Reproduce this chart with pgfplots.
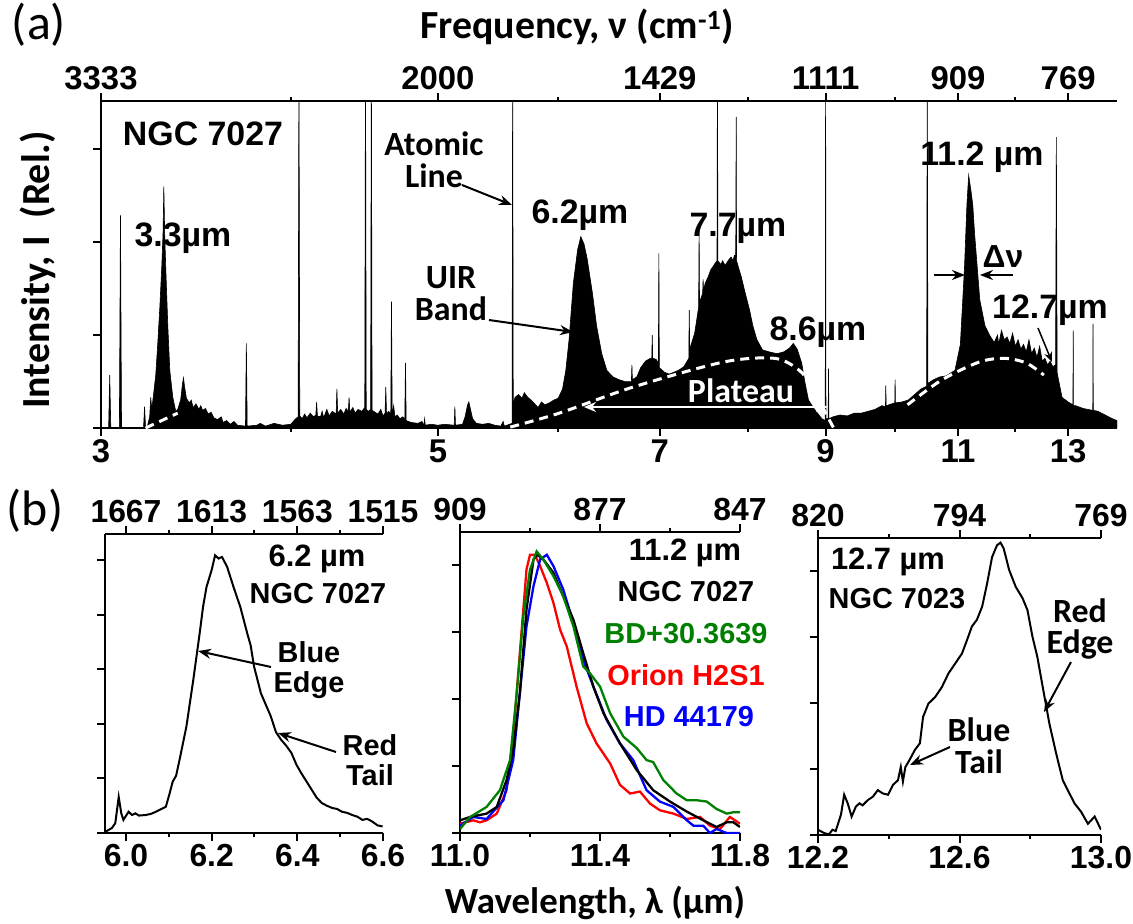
\documentclass[border=0pt]{standalone}
\usepackage{fontspec}
\usepackage{pgfplots}
\pgfplotsset{compat=1.18}
\usetikzlibrary{arrows.meta}
\setmainfont{Liberation Sans}
\newfontfamily\carl{Carlito}
\newcommand\fs[1]{\fontsize{#1}{#1}\selectfont}
\definecolor{dgreen}{RGB}{0,128,0}
\pgfplotsset{
  base/.style={scale only axis, axis line style={line width=2.2bp,-}, tick align=outside,
    major tick length=8bp, minor tick length=4bp,
    every tick/.style={black,line width=2bp},
    ticklabel style={font=\bfseries\fs{32}}},
  mainax/.style={base, axis x line*=bottom, axis y line*=left, yticklabels={}},
  topax/.style={base, axis x line*=top, axis y line=none},
}
\tikzset{arr/.style={line width=2bp,-{Stealth[length=13bp,width=10bp]}}}
\begin{document}
\begin{tikzpicture}
\useasboundingbox (0,0) rectangle (1133bp,-924bp);
% ---------------- (a)
\begin{axis}[mainax, at={(101bp,-428bp)}, anchor=south west, width=1016bp, height=327bp,
  xmode=log, xmin=3, xmax=14, ymin=0, ymax=3.52, ticklabel style={font=\bfseries\fs{33}},
  xtick={3,5,7,9,11,13}, xticklabels={3,5,7,9,11,13}, minor xtick={4,6,8,10,12}, ytick={0,1,2,3}]
\addplot[fill=black, draw=black, line width=0.6bp] coordinates {
(3.000,0.00)(3.035,0.00)(3.040,0.57)(3.045,0.00)(3.085,0.00)(3.090,2.29)(3.095,0.00)
(3.200,0.00)(3.205,0.23)(3.210,0.00)(3.220,0.03)(3.230,0.12)(3.235,0.33)(3.240,0.20)(3.250,0.38)
(3.260,0.58)(3.270,0.92)(3.280,1.30)(3.290,1.75)(3.296,2.10)(3.300,2.60)(3.304,2.10)
(3.310,1.70)(3.320,1.10)(3.330,0.62)(3.345,0.33)(3.360,0.18)(3.370,0.20)(3.385,0.30)
(3.395,0.48)(3.400,0.54)(3.405,0.45)(3.415,0.32)(3.430,0.27)(3.440,0.30)(3.450,0.22)
(3.465,0.26)(3.480,0.20)(3.490,0.24)(3.500,0.19)(3.515,0.21)(3.530,0.15)(3.545,0.17)
(3.560,0.11)(3.580,0.09)(3.600,0.12)(3.610,0.06)(3.630,0.08)(3.650,0.04)(3.670,0.07)
(3.690,0.03)(3.735,0.02)(3.740,0.91)(3.745,0.02)(3.800,0.03)(3.820,0.05)(3.850,0.02)
(3.900,0.05)(3.950,0.03)(4.000,0.04)(4.020,0.08)(4.030,0.10)(4.045,0.12)(4.050,4.00)
(4.055,0.13)(4.070,0.10)(4.085,0.15)(4.100,0.11)(4.120,0.16)(4.140,0.12)(4.155,0.14)
(4.160,0.28)(4.165,0.13)(4.185,0.12)(4.195,0.18)(4.205,0.11)(4.225,0.20)(4.240,0.13)
(4.260,0.18)(4.285,0.15)(4.290,0.42)(4.295,0.16)(4.315,0.20)(4.335,0.15)(4.350,0.21)
(4.365,0.18)(4.370,0.33)(4.375,0.17)(4.395,0.22)(4.410,0.16)(4.430,0.20)(4.455,0.18)
(4.475,0.22)(4.480,4.00)(4.485,0.20)(4.500,0.18)(4.515,0.20)(4.520,4.00)(4.525,0.19)
(4.545,0.17)(4.565,0.15)(4.585,0.20)(4.600,0.13)(4.615,0.16)(4.620,0.44)(4.625,0.15)
(4.640,0.18)(4.655,0.15)(4.660,1.36)(4.665,0.14)(4.675,0.24)(4.685,0.12)(4.700,0.14)
(4.720,0.10)(4.740,0.12)(4.755,0.10)(4.760,0.70)(4.765,0.08)(4.800,0.06)(4.850,0.05)
(4.880,0.07)(4.895,0.03)(4.900,0.10)(4.905,0.03)(4.950,0.04)(5.000,0.03)(5.050,0.04)
(5.125,0.03)(5.130,0.23)(5.135,0.03)(5.190,0.04)(5.210,0.12)(5.230,0.25)(5.240,0.28)
(5.250,0.22)(5.270,0.10)(5.300,0.05)(5.350,0.04)(5.400,0.05)(5.450,0.03)(5.500,0.02)
(5.520,0.07)(5.530,0.02)(5.595,0.05)(5.600,4.00)(5.605,0.25)(5.620,0.33)(5.650,0.36)
(5.680,0.32)(5.700,0.38)(5.730,0.33)(5.760,0.30)(5.790,0.26)(5.820,0.22)(5.850,0.28)
(5.880,0.25)(5.920,0.27)(5.960,0.30)(6.000,0.32)(6.040,0.42)(6.070,0.62)(6.100,0.95)
(6.140,1.56)(6.180,1.92)(6.210,2.06)(6.240,1.98)(6.270,1.82)(6.320,1.45)(6.360,1.10)
(6.410,0.80)(6.460,0.62)(6.520,0.55)(6.580,0.52)(6.640,0.50)(6.705,0.50)(6.710,0.68)
(6.715,0.52)(6.760,0.55)(6.800,0.65)(6.850,0.72)(6.900,0.75)(6.915,0.75)(6.920,1.00)
(6.925,0.75)(6.960,0.74)(6.985,0.70)(6.990,1.88)(6.995,0.65)(7.050,0.60)(7.100,0.58)
(7.150,0.60)(7.200,0.62)(7.260,0.66)(7.315,0.75)(7.320,1.27)(7.325,0.85)(7.380,1.02)
(7.425,1.30)(7.430,2.13)(7.435,1.35)(7.470,1.45)(7.475,1.60)(7.480,1.48)(7.500,1.56)
(7.530,1.62)(7.560,1.70)(7.590,1.74)(7.610,1.77)(7.635,1.80)(7.640,4.00)(7.645,1.80)
(7.680,1.76)(7.700,1.80)(7.730,1.75)(7.750,1.78)(7.780,1.82)(7.800,1.84)(7.820,1.80)
(7.840,1.86)(7.855,1.85)(7.860,3.35)(7.865,1.80)(7.890,1.72)(7.920,1.63)(7.970,1.45)
(8.020,1.27)(8.060,1.10)(8.110,0.95)(8.180,0.84)(8.260,0.82)(8.360,0.80)(8.450,0.82)
(8.520,0.86)(8.570,0.91)(8.620,0.85)(8.680,0.70)(8.720,0.50)(8.770,0.30)(8.850,0.20)
(8.950,0.10)(8.995,0.08)(9.000,4.00)(9.005,0.10)(9.035,0.10)(9.040,0.64)(9.045,0.10)
(9.100,0.12)(9.200,0.14)(9.300,0.13)(9.400,0.16)(9.500,0.16)(9.600,0.18)(9.700,0.20)
(9.800,0.24)(9.855,0.23)(9.860,0.46)(9.865,0.24)(9.950,0.26)(9.995,0.27)(10.000,0.52)
(10.005,0.27)(10.100,0.28)(10.200,0.30)(10.300,0.36)(10.400,0.42)(10.490,0.45)(10.500,4.00)
(10.510,0.48)(10.600,0.52)(10.700,0.55)(10.800,0.56)(10.950,0.62)(11.040,0.90)(11.110,1.73)
(11.150,2.40)(11.180,2.72)(11.220,2.55)(11.250,2.40)(11.280,2.10)(11.370,1.38)(11.460,1.10)
(11.540,1.00)(11.620,0.92)(11.680,1.00)(11.700,0.90)(11.750,1.05)(11.800,0.95)(11.850,0.98)
(11.900,0.91)(11.950,1.02)(12.000,0.88)(12.050,0.95)(12.100,0.85)(12.150,0.90)(12.200,0.82)
(12.250,0.95)(12.300,0.80)(12.350,0.86)(12.400,0.76)(12.450,0.88)(12.500,0.72)(12.550,0.75)
(12.600,0.68)(12.650,0.72)(12.700,0.66)(12.755,0.68)(12.770,3.13)(12.785,0.60)(12.800,0.55)
(12.880,0.33)(13.000,0.28)(13.095,0.25)(13.100,1.05)(13.105,0.24)(13.150,0.24)(13.300,0.21)
(13.495,0.19)(13.500,1.12)(13.505,0.19)(13.600,0.18)(13.750,0.14)(13.900,0.10)(14.000,0.08)
} \closedcycle;
\addplot[white, line width=3bp, dash pattern=on 9bp off 6bp] coordinates {(3.21,0.0)(3.37,0.16)};
\addplot[white, line width=3bp, dash pattern=on 9bp off 6bp, smooth] coordinates {
(5.58,0.01)(6.01,0.16)(6.72,0.44)(7.71,0.71)(8.33,0.75)(8.65,0.62)(8.81,0.44)(9.11,0.0)};
\addplot[white, line width=3bp, dash pattern=on 9bp off 6bp, smooth] coordinates {
(10.19,0.25)(10.74,0.52)(11.36,0.71)(11.80,0.75)(12.2,0.70)(12.53,0.57)};
\end{axis}
\begin{axis}[topax, at={(101bp,-428bp)}, anchor=south west, width=1016bp, height=327bp,
  xmode=log, xmin=3, xmax=14, ymin=0, ymax=3.52, ticklabel style={font=\bfseries\fs{33}},
  xtick={3,5,7,9,11,13}, xticklabels={3333,2000,1429,1111,909,769}, minor xtick={4,6,8,10,12}]
\addplot[draw=none] coordinates {(3,0)};
\end{axis}
% ---------------- (b1)
\begin{axis}[mainax, at={(105bp,-833bp)}, anchor=south west, width=278bp, height=299bp,
  xmin=5.951, xmax=6.6, ymin=0, ymax=5.48, xtick={6.0,6.2,6.4,6.6}, xticklabels={6.0,6.2,6.4,6.6},
  minor xtick={6.1,6.3,6.5}, ytick={0,1,2,3,4,5}]
\addplot[black, line width=2bp] coordinates {
(5.951,0.02)(5.967,0.09)(5.975,0.18)(5.983,0.66)(5.989,0.36)(5.994,0.24)(6.006,0.39)(6.014,0.33)
(6.022,0.36)(6.030,0.32)(6.046,0.33)(6.058,0.35)(6.070,0.39)(6.085,0.45)(6.093,0.48)(6.101,0.70)
(6.109,0.94)(6.117,1.05)(6.125,1.34)(6.141,1.95)(6.157,2.80)(6.172,3.66)(6.180,4.15)(6.188,4.51)
(6.200,4.82)(6.208,5.09)(6.216,5.03)(6.224,5.06)(6.236,4.88)(6.251,4.51)(6.267,4.14)(6.283,3.66)
(6.291,3.44)(6.299,3.05)(6.315,2.56)(6.338,2.14)(6.350,1.85)(6.362,1.71)(6.374,1.60)(6.386,1.47)
(6.398,1.25)(6.409,1.10)(6.421,0.95)(6.433,0.80)(6.445,0.65)(6.457,0.55)(6.469,0.50)(6.481,0.46)
(6.493,0.44)(6.504,0.39)(6.516,0.37)(6.528,0.33)(6.540,0.30)(6.552,0.24)(6.563,0.26)(6.575,0.21)
(6.587,0.14)(6.599,0.12)};
\end{axis}
\begin{axis}[topax, at={(105bp,-833bp)}, anchor=south west, width=278bp, height=299bp,
  xmin=5.951, xmax=6.6, ymin=0, ymax=5.48, xtick={6.0,6.2,6.4,6.6}, xticklabels={1667,1613,1563,1515},
  minor xtick={6.1,6.3,6.5}]
\addplot[draw=none] coordinates {(6,0)};
\end{axis}
% ---------------- (b2)
\begin{axis}[mainax, at={(460bp,-833bp)}, anchor=south west, width=280bp, height=301bp,
  xmin=11, xmax=11.8, ymin=0, ymax=4.5, xtick={11.0,11.4,11.8}, xticklabels={11.0,11.4,11.8},
  minor xtick={11.2,11.6}, ytick={0,1,2,3,4}]
\addplot[red, line width=2.3bp] coordinates {
(11.0,0.14)(11.038,0.19)(11.057,0.16)(11.076,0.19)(11.105,0.29)(11.133,0.64)(11.152,1.44)(11.171,2.69)
(11.190,3.94)(11.2,4.16)(11.214,4.16)(11.229,3.99)(11.248,3.74)(11.267,3.44)(11.286,3.04)(11.305,2.79)
(11.333,2.19)(11.362,1.64)(11.390,1.34)(11.429,1.04)(11.457,0.72)(11.486,0.59)(11.514,0.62)(11.543,0.44)
(11.571,0.34)(11.610,0.29)(11.648,0.21)(11.686,0.24)(11.714,0.11)(11.743,0.06)(11.771,0.24)(11.8,0.14)};
\addplot[blue, line width=2.3bp] coordinates {
(11.0,0.11)(11.038,0.24)(11.076,0.21)(11.124,0.49)(11.152,1.09)(11.171,2.09)(11.190,3.09)(11.210,3.69)
(11.229,4.09)(11.248,4.16)(11.267,3.99)(11.295,3.64)(11.324,3.14)(11.352,2.59)(11.381,2.19)(11.419,1.69)
(11.457,1.34)(11.495,1.09)(11.533,0.64)(11.571,0.47)(11.610,0.39)(11.648,0.19)(11.667,0.11)(11.695,0.11)
(11.714,0.0)(11.733,0.06)(11.762,0.0)(11.8,0.0)};
\addplot[black, line width=2.3bp] coordinates {
(11.000,0.19)(11.029,0.24)(11.076,0.29)(11.105,0.39)(11.133,0.79)(11.152,1.24)(11.171,2.09)(11.190,3.34)
(11.210,4.09)(11.221,4.16)(11.238,4.09)(11.267,3.89)(11.295,3.54)(11.324,3.19)(11.352,2.69)(11.381,2.19)
(11.410,1.79)(11.457,1.34)(11.505,0.94)(11.552,0.64)(11.600,0.47)(11.648,0.32)(11.695,0.19)(11.733,0.09)
(11.762,0.16)(11.781,0.16)(11.800,0.09)};
\addplot[dgreen, line width=2.3bp] coordinates {
(11.0,0.06)(11.029,0.24)(11.076,0.39)(11.114,0.64)(11.143,1.09)(11.162,2.09)(11.181,3.24)(11.2,3.94)
(11.219,4.21)(11.238,4.09)(11.267,3.84)(11.295,3.54)(11.324,3.09)(11.352,2.49)(11.371,2.39)(11.4,2.19)
(11.429,1.79)(11.467,1.44)(11.505,1.27)(11.533,1.09)(11.552,1.06)(11.581,0.79)(11.619,0.59)(11.648,0.49)
(11.676,0.49)(11.705,0.47)(11.733,0.36)(11.762,0.29)(11.781,0.31)(11.8,0.31)};
\end{axis}
\begin{axis}[topax, at={(460bp,-833bp)}, anchor=south west, width=280bp, height=301bp,
  xmin=11, xmax=11.8, ymin=0, ymax=4.5, xtick={11.0,11.4,11.8}, xticklabels={909,877,847},
  minor xtick={11.2,11.6}]
\addplot[draw=none] coordinates {(11,0)};
\end{axis}
% ---------------- (b3)
\begin{axis}[mainax, at={(818bp,-835bp)}, anchor=south west, width=283bp, height=297bp,
  xmin=12.2, xmax=13.0, ymin=0, ymax=4.5, xtick={12.2,12.6,13.0}, xticklabels={12.2,12.6,13.0},
  minor xtick={12.4,12.8}, ytick={0,1,2,3,4}]
\addplot[black, line width=2bp] coordinates {
(12.2,0.08)(12.217,0.03)(12.231,0.01)(12.241,0.08)(12.250,0.06)(12.265,0.31)(12.274,0.61)(12.284,0.48)
(12.295,0.28)(12.307,0.43)(12.317,0.48)(12.326,0.45)(12.341,0.53)(12.355,0.58)(12.369,0.68)(12.383,0.63)
(12.398,0.61)(12.412,0.76)(12.426,0.83)(12.434,1.03)(12.440,0.81)(12.447,1.03)(12.459,1.14)(12.474,1.29)
(12.488,1.39)(12.497,1.79)(12.512,1.99)(12.531,2.09)(12.550,2.24)(12.569,2.45)(12.588,2.60)(12.607,2.75)
(12.621,2.95)(12.635,3.16)(12.649,3.26)(12.664,3.46)(12.678,3.81)(12.692,4.21)(12.706,4.39)(12.716,4.43)
(12.725,4.34)(12.740,4.02)(12.759,3.76)(12.778,3.59)(12.792,3.41)(12.806,3.01)(12.820,2.70)(12.835,2.25)
(12.854,1.69)(12.873,1.24)(12.892,0.83)(12.906,0.68)(12.925,0.48)(12.944,0.35)(12.963,0.17)(12.982,0.28)
(13.0,0.08)};
\end{axis}
\begin{axis}[topax, at={(818bp,-835bp)}, anchor=south west, width=283bp, height=297bp,
  xmin=12.2, xmax=13.0, ymin=0, ymax=4.5, xtick={12.2,12.6,13.0}, xticklabels={820,794,769},
  minor xtick={12.4,12.8}]
\addplot[draw=none] coordinates {(12.2,0)};
\end{axis}
% ---------------- annotations
\begin{scope}[x=1bp,y=-1bp]
\node[font=\carl\fs{50}] at (39,25) {(a)};
\node[font=\carl\fs{50}] at (35,511) {(b)};
\node[font=\carl\bfseries\fs{40}] at (577,27) {Frequency, ν (cm\textsuperscript{-1})};
\node[font=\carl\bfseries\fs{40}, rotate=90] at (38,270) {Intensity, I~~(Rel.)};
\node[font=\carl\bfseries\fs{37}] at (595,903) {Wavelength, λ (µm)};
% panel (a) labels
\node[font=\bfseries\fs{34}] at (203,134) {NGC 7027};
\node[font=\bfseries\fs{34}] at (183,238) {3.3µm};
\node[font=\carl\bfseries\fs{34}, align=center, inner sep=0] at (434,160) {Atomic\\[-2bp]Line};
\draw[arr] (462,185) -- (512,205);
\node[font=\bfseries\fs{34}] at (580,215) {6.2µm};
\node[font=\carl\bfseries\fs{34}, align=center, inner sep=0] at (451,294) {UIR\\[-2bp]Band};
\draw[arr] (489,320) -- (573,332);
\node[font=\bfseries\fs{34}] at (738,228) {7.7µm};
\node[font=\bfseries\fs{34}] at (818,332) {8.6µm};
\node[font=\carl\bfseries\fs{34}, white] at (741,391) {Plateau};
\draw[white, line width=2bp, {Stealth[length=12bp,width=10bp]}-{Stealth[length=12bp,width=10bp]}] (584,407) -- (828,407);
\node[font=\bfseries\fs{34}] at (982,157) {11.2 µm};
\node[font=\bfseries\fs{32}] at (1003,257) {Δν};
\draw[arr] (934,275) -- (965,275);
\draw[arr] (1013,275) -- (980,275);
\node[font=\bfseries\fs{34}] at (1050,310) {12.7µm};
\draw[line width=1.5bp,-{Stealth[length=10bp,width=8bp]}] (1038,328) -- (1052,362);
% panel b1
\node[font=\bfseries\fs{31}] at (317,559) {6.2 µm};
\node[font=\bfseries\fs{29}] at (318,594) {NGC 7027};
\node[font=\bfseries\fs{29}, align=center, inner sep=0] at (309,670) {Blue\\[1bp]Edge};
\draw[arr] (271,667) -- (198,651);
\node[font=\bfseries\fs{29}, align=center, inner sep=0] at (370,760) {Red\\[1bp]Tail};
\draw[arr] (336,752) -- (278,733);
% panel b2
\node[font=\bfseries\fs{31}] at (685,553) {11.2 µm};
\node[font=\bfseries\fs{29}] at (686,592) {NGC 7027};
\node[font=\bfseries\fs{29}, text=dgreen] at (686,634) {BD+30.3639};
\node[font=\bfseries\fs{29}, text=red] at (686,675) {Orion H2S1};
\node[font=\bfseries\fs{29}, text=blue] at (689,717) {HD 44179};
% panel b3
\node[font=\bfseries\fs{31}] at (888,562) {12.7 µm};
\node[font=\bfseries\fs{29}] at (897,599) {NGC 7023};
\node[font=\carl\bfseries\fs{34}, align=center, inner sep=0] at (1080,629) {Red\\[-2bp]Edge};
\draw[arr] (1071,662) -- (1044,712);
\node[font=\carl\bfseries\fs{34}, align=center, inner sep=0] at (979,746) {Blue\\[-2bp]Tail};
\draw[arr] (950,747) -- (910,765);
\end{scope}
\end{tikzpicture}
\end{document}
